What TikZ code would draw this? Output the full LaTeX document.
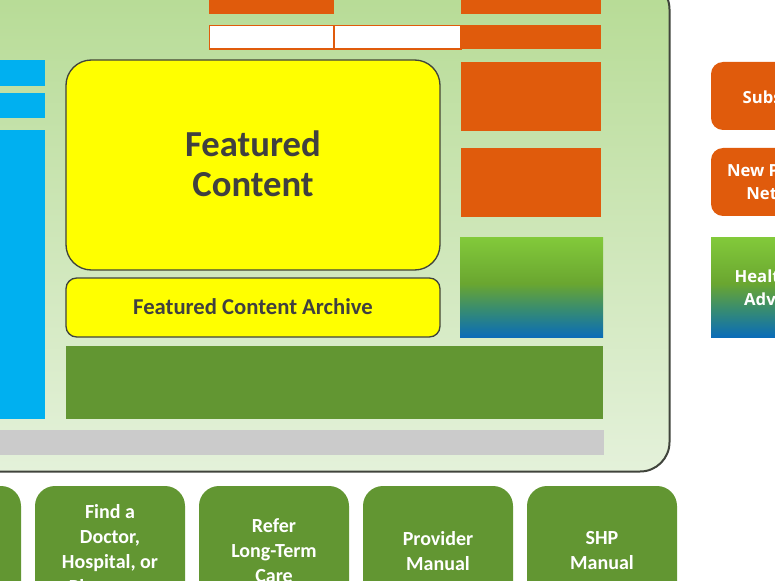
\documentclass[tikz,border=0pt]{standalone}
\usepackage{fontspec}
\setmainfont{Carlito}
\newfontfamily\sidefont{Open Sans}
\usetikzlibrary{fit}
\definecolor{org}{RGB}{224,91,12}
\definecolor{skyb}{RGB}{0,176,240}
\definecolor{ylw}{RGB}{255,255,0}
\definecolor{dgrn}{RGB}{98,150,50}
\definecolor{lgray}{RGB}{203,203,203}
\definecolor{edge}{RGB}{64,68,60}
\definecolor{txt}{RGB}{64,64,64}
\definecolor{pantop}{RGB}{182,219,148}
\definecolor{panbot}{RGB}{228,241,218}
\definecolor{gblue}{RGB}{10,108,184}
\definecolor{gteal}{RGB}{52,138,118}
\definecolor{golive}{RGB}{106,166,48}
\definecolor{glime}{RGB}{130,201,58}
\pgfdeclareverticalshading{hpa}{100bp}{color(0bp)=(gblue); color(25bp)=(gblue); color(38bp)=(gteal); color(52bp)=(golive); color(75bp)=(glime); color(100bp)=(glime)}
\tikzset{
  blk/.style={inner sep=0pt, outer sep=0pt, draw=none},
  obox/.style={blk, fill=org},
  wbox/.style={blk, fill=white, draw=org, line width=1.1pt},
  bbox/.style={blk, fill=skyb},
  ybox/.style={blk, fill=ylw, draw=edge, line width=1pt},
  gradbox/.style={blk, shading=hpa},
  navbox/.style={blk, fill=dgrn, rounded corners=15pt, text=white, align=center,
     font=\bfseries\fontsize{15pt}{18.75pt}\selectfont},
  sidebox/.style={blk, text=white, align=center,
     font=\sidefont\bfseries\fontsize{12.5pt}{17pt}\selectfont},
}
\begin{document}
\begin{tikzpicture}[x=0.75pt,y=-0.75pt]
\useasboundingbox (0,0) rectangle (775,581);
\clip (0,0) rectangle (775,581);
% main panel
\draw[draw=edge, line width=1.5pt, rounded corners=22pt, top color=pantop, bottom color=panbot]
  (-60,-20) rectangle (669.5,471.5);
\node[blk, fit={(-60,-20) (669.5,471.5)}] (panel) {};
% top orange rows
\node[obox, fit={(209,-5) (334,14)}] (t1) {};
\node[obox, fit={(461,-5) (601,14)}] (t2) {};
\node[wbox, fit={(209.5,25.5) (334,49)}] (w1) {};
\node[wbox, fit={(334,25.5) (461,49)}] (w2) {};
\node[obox, fit={(461,25) (601,49)}] (o0) {};
\node[obox, fit={(461,62) (601,131)}] (o1) {};
\node[obox, fit={(461,148) (601,217)}] (o2) {};
\node[gradbox, fit={(460,238) (603,337)}] (g1) {};
% left blue
\node[bbox, fit={(-5,60) (45,86)}] (b1) {};
\node[bbox, fit={(-5,93) (45,118)}] (b2) {};
\node[bbox, fit={(-5,130) (45,419)}] (b3) {};
% featured
\draw[ybox, rounded corners=19pt] (66,60) rectangle (440,270);
\node[blk, fit={(66,60) (440,270)}] (feat) {};
\node[text=txt, font=\bfseries\fontsize{27.5pt}{30pt}\selectfont, align=center] (feattxt) at (253,164) {Featured\\Content};
\draw[ybox, rounded corners=8pt] (66,278) rectangle (440,337);
\node[blk, fit={(66,278) (440,337)}] (arch) {};
\node[text=txt, font=\bfseries\fontsize{17pt}{20pt}\selectfont] (archtxt) at (253,307) {Featured Content Archive};
% green and gray bars
\node[blk, fill=dgrn, fit={(66,346) (603,419)}] (gbar) {};
\node[blk, fill=lgray, fit={(-5,430) (604,455)}] (graybar) {};
% right side boxes
\fill[org, rounded corners=9pt] (711,62) rectangle (855,130);
\node[sidebox] (subs) at (783,97) {Subscribe};
\fill[org, rounded corners=9pt] (711,148) rectangle (855,216);
\node[sidebox] (newp) at (783,182) {New Provider\\Network};
\node[gradbox, fit={(711,238) (855,337)}] (g2) {};
\node[sidebox] (hpa) at (783,288) {Health Plan\\Advocate};
% bottom nav boxes
\node[navbox, fit={(-129,486) (21,616)}] (n0) {};
\node[navbox, fit={(35,486) (185,616)}] (n1) {};
\node[navbox, fit={(199,486) (349,616)}] (n2) {};
\node[navbox, fit={(363,486) (513,616)}] (n3) {};
\node[navbox, fit={(527,486) (677,616)}] (n4) {};
\node[navbox, fill=none] at (n1.center) {Find a\\Doctor,\\Hospital, or\\Pharmacy};
\node[navbox, fill=none] at (n2.center) {Refer\\Long-Term\\Care};
\node[navbox, fill=none] at (n3.center) {Provider\\Manual};
\node[navbox, fill=none] at (n4.center) {SHP\\Manual};
\end{tikzpicture}
\end{document}
